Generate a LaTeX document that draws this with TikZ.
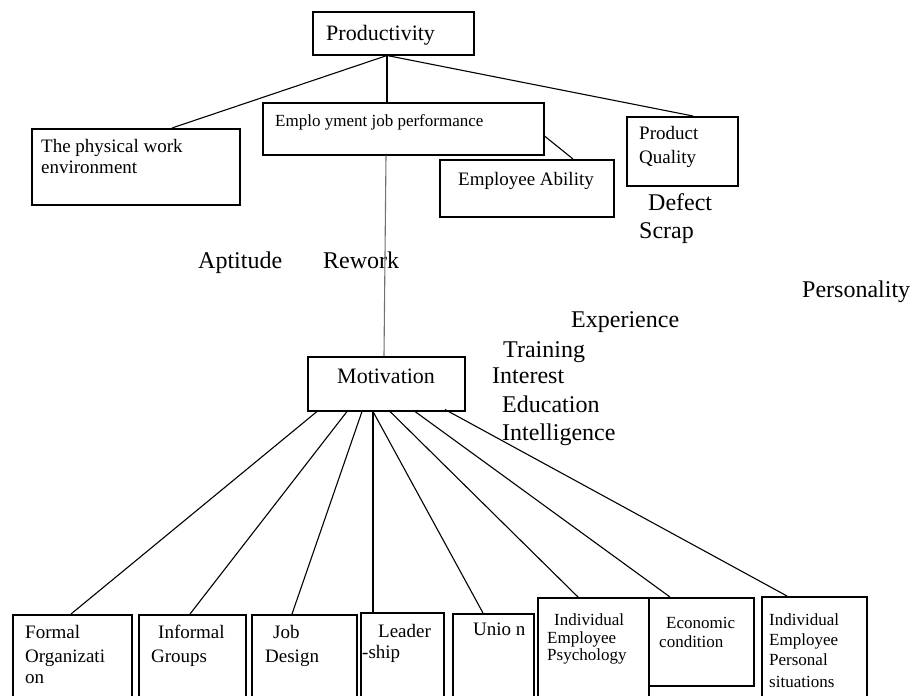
\documentclass[tikz,border=0pt]{standalone}
\usepackage{fontspec}
\setmainfont{Liberation Serif}
\tikzset{
  box/.style={draw, line width=1.5pt, inner sep=0pt, anchor=north west},
  conn/.style={line width=1.1pt},
  tx/.style={anchor=base west, inner sep=0pt},
  fbig/.style={font=\fontsize{24}{28}\selectfont},
  fhead/.style={font=\fontsize{22}{26}\selectfont},
  fbox/.style={font=\fontsize{19}{22}\selectfont},
  fsmall/.style={font=\fontsize{17}{20}\selectfont},
}
\begin{document}
\begin{tikzpicture}[x=1pt,y=-1pt]
\fill[white] (0,0) rectangle (916,696);
\useasboundingbox (0,0) rectangle (916,696);

% boxes
\node[box, minimum width=161pt, minimum height=43pt] (prod) at (312,11) {};
\node[box, minimum width=208pt, minimum height=76pt] (phys) at (31,128) {};
\node[box, minimum width=281pt, minimum height=52pt] (emp) at (262,102) {};
\node[box, minimum width=174pt, minimum height=57pt] (ea) at (439,159) {};
\node[box, minimum width=111pt, minimum height=69pt] (pq) at (626,116) {};
\node[box, minimum width=157pt, minimum height=54pt] (mot) at (307,356) {};
\node[box, minimum width=119pt, minimum height=100pt] (form) at (12,614) {};
\node[box, minimum width=107pt, minimum height=100pt] (inf) at (138,614) {};
\node[box, minimum width=105pt, minimum height=100pt] (job) at (251,614) {};
\node[box, minimum width=83pt, minimum height=100pt] (lead) at (360,612) {};
\node[box, minimum width=81pt, minimum height=100pt] (uni) at (452,613) {};
\node[box, minimum width=111pt, minimum height=110pt] (psy) at (537,597) {};
\node[box, minimum width=105pt, minimum height=88pt] (eco) at (648,597) {};
\node[box, minimum width=105pt, minimum height=110pt] (pers) at (761,596) {};

% box texts
\node[tx, fhead] (prodt) at (326,40) {Productivity};
\node[tx, fbox] (phyt1) at (41,152) {The physical work};
\node[tx, fbox] (phyt2) at (41,173) {environment};
\node[tx, fsmall] (empt) at (275,126) {Emplo yment job performance};
\node[tx, fbox] (eat) at (458,185) {Employee Ability};
\node[tx, fbox] (pqt1) at (639,139) {Product};
\node[tx, fbox] (pqt2) at (639,163) {Quality};
\node[tx, fhead] (mott) at (337,383) {Motivation};

\node[tx, fbox] (fo1) at (25,638) {Formal};
\node[tx, fbox] (fo2) at (25,662) {Organizati};
\node[tx, fbox] (fo3) at (25,683) {on};
\node[tx, fbox] (in1) at (158,638) {Informal};
\node[tx, fbox] (in2) at (151,662) {Groups};
\node[tx, fbox] (jo1) at (273,638) {Job};
\node[tx, fbox] (jo2) at (265,662) {Design};
\node[tx, fbox] (le1) at (378,637) {Leader};
\node[tx, fbox] (le2) at (362,658) {-ship};
\node[tx, fbox] (un1) at (473,635) {Unio n};
\node[tx, fsmall] (ps1) at (554,625) {Individual};
\node[tx, fsmall] (ps2) at (547,643) {Employee};
\node[tx, fsmall] (ps3) at (547,660) {Psychology};
\node[tx, fsmall] (ec1) at (666,628) {Economic};
\node[tx, fsmall] (ec2) at (659,647) {condition};
\node[tx, fsmall] (pe1) at (769,625) {Individual};
\node[tx, fsmall] (pe2) at (769,645) {Employee};
\node[tx, fsmall] (pe3) at (769,665) {Personal};
\node[tx, fsmall] (pe4) at (769,687) {situations};

% free labels
\node[tx, fbig] (defect) at (648,210) {Defect};
\node[tx, fbig] (scrap) at (639,238) {Scrap};
\node[tx, fbig] (apt) at (198,268) {Aptitude};
\node[tx, fbig] (rew) at (323,268) {Rework};
\node[tx, fbig] (pers2) at (802,297) {Personality};
\node[tx, fbig] (exp) at (571,327) {Experience};
\node[tx, fbig] (tra) at (503,357) {Training};
\node[tx, fbig] (int) at (492,383) {Interest};
\node[tx, fbig] (edu) at (502,412) {Education};
\node[tx, fbig] (intel) at (502,440) {Intelligence};

% connectors
\draw[conn] ([xshift=75pt]prod.south west) -- ([xshift=141pt]phys.north west);
\draw[conn] ([xshift=75pt]prod.south west) -- ([xshift=125pt]emp.north west);
\draw[conn] ([xshift=75pt]prod.south west) -- ([xshift=67pt]pq.north west);
\draw[conn] ([yshift=-34pt]emp.north east) -- ([xshift=134pt]ea.north west);
\draw[conn, black!55] ([xshift=124pt]emp.south west) -- ([xshift=77pt]mot.north west);

\draw[conn] ([xshift=10pt]mot.south west) -- ([xshift=59pt]form.north west);
\draw[conn] ([xshift=40pt]mot.south west) -- ([xshift=52pt]inf.north west);
\draw[conn] ([xshift=55pt]mot.south west) -- ([xshift=41pt]job.north west);
\draw[conn] ([xshift=66pt]mot.south west) -- ([xshift=13pt]lead.north west);
\draw[conn] ([xshift=66pt]mot.south west) -- ([xshift=31pt]uni.north west);
\draw[conn] ([xshift=83pt]mot.south west) -- ([xshift=41pt]psy.north west);
\draw[conn] ([xshift=108pt]mot.south west) -- ([xshift=22pt]eco.north west);
\draw[conn] ([xshift=138pt,yshift=2pt]mot.south west) -- ([xshift=26pt]pers.north west);
\end{tikzpicture}
\end{document}
